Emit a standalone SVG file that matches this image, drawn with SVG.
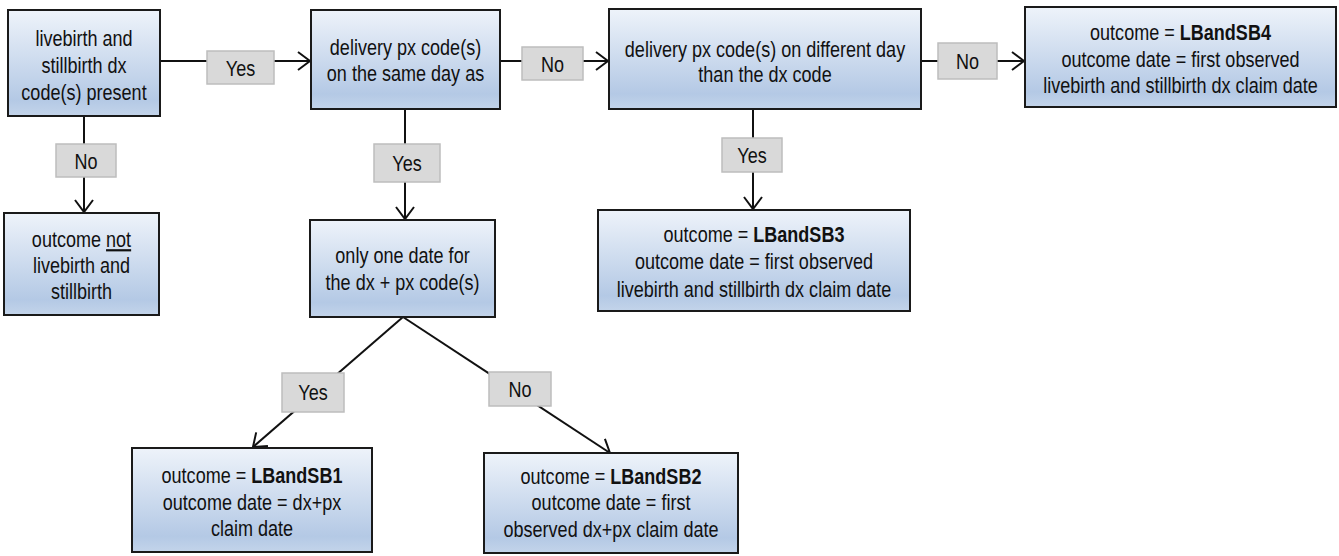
<svg xmlns="http://www.w3.org/2000/svg" width="1339" height="556" viewBox="0 0 1339 556">
<defs>
<linearGradient id="g" x1="0" y1="0" x2="0" y2="1">
<stop offset="0" stop-color="#eef3fa"/>
<stop offset="0.85" stop-color="#b4c9e5"/>
<stop offset="1" stop-color="#c3d4ea"/>
</linearGradient>
<marker id="a" markerUnits="userSpaceOnUse" markerWidth="16" markerHeight="20" refX="13" refY="10" orient="auto">
<path d="M1,1 L13,10 L1,19" fill="none" stroke="#111" stroke-width="2"/>
</marker>
</defs>
<style>
.n{fill:url(#g);stroke:#1a1a1a;stroke-width:2}
.l{fill:#d9d9d9;stroke:#bdbdbd;stroke-width:1.5}
.c{fill:none;stroke:#111;stroke-width:2;marker-end:url(#a)}
text{font-family:"Liberation Sans",Arial,sans-serif;font-size:22px;fill:#111;text-anchor:middle}
.b{font-weight:bold}
</style>
<rect width="1339" height="556" fill="#fff"/>
<g id="connectors">
<line class="c" x1="160" y1="61" x2="310" y2="61"/>
<line class="c" x1="500" y1="61" x2="608" y2="61"/>
<line class="c" x1="921" y1="61" x2="1024" y2="61"/>
<line class="c" x1="84" y1="116" x2="84" y2="212"/>
<line class="c" x1="405" y1="109" x2="405" y2="219"/>
<line class="c" x1="753" y1="109" x2="753" y2="209"/>
<line class="c" x1="403" y1="317" x2="253" y2="447"/>
<line class="c" x1="403" y1="317" x2="610" y2="453"/>
</g>
<g id="labels">
<g id="lbl-yes1"><rect class="l" x="207" y="51" width="67" height="33"/><text transform="translate(240.5 76) scale(0.82 1)">Yes</text></g>
<g id="lbl-no1"><rect class="l" x="522" y="47" width="61" height="33"/><text transform="translate(552.5 72) scale(0.82 1)">No</text></g>
<g id="lbl-no2"><rect class="l" x="938" y="43" width="59" height="36"/><text transform="translate(967.5 69) scale(0.82 1)">No</text></g>
<g id="lbl-no3"><rect class="l" x="56" y="144" width="60" height="33"/><text transform="translate(86 169) scale(0.82 1)">No</text></g>
<g id="lbl-yes2"><rect class="l" x="374" y="144" width="66" height="38"/><text transform="translate(407 171) scale(0.82 1)">Yes</text></g>
<g id="lbl-yes3"><rect class="l" x="722" y="138" width="60" height="34"/><text transform="translate(752 163) scale(0.82 1)">Yes</text></g>
<g id="lbl-yes4"><rect class="l" x="282" y="373" width="62" height="39"/><text transform="translate(313 400) scale(0.82 1)">Yes</text></g>
<g id="lbl-no4"><rect class="l" x="489" y="372" width="62" height="34"/><text transform="translate(520 397) scale(0.82 1)">No</text></g>
</g>
<g id="n1"><rect class="n" x="8" y="10" width="152" height="106"/>
<g transform="translate(84 0) scale(0.82 1)"><text y="46">livebirth and</text><text y="73">stillbirth dx</text><text y="100">code(s) present</text></g></g>
<g id="n2"><rect class="n" x="311" y="10" width="189" height="99"/>
<g transform="translate(405.5 0) scale(0.82 1)"><text y="55">delivery px code(s)</text><text y="81">on the same day as</text></g></g>
<g id="n3"><rect class="n" x="609" y="9" width="312" height="100"/>
<g transform="translate(765 0) scale(0.82 1)"><text y="57">delivery px code(s) on different day</text><text y="82">than the dx code</text></g></g>
<g id="n4"><rect class="n" x="1025" y="7" width="311" height="100"/>
<g transform="translate(1180.5 0) scale(0.82 1)"><text y="40">outcome = <tspan class="b">LBandSB4</tspan></text><text y="67">outcome date = first observed</text><text y="93">livebirth and stillbirth dx claim date</text></g></g>
<g id="n5"><rect class="n" x="4" y="213" width="155" height="102"/>
<g transform="translate(81.5 0) scale(0.82 1)"><text y="247">outcome <tspan text-decoration="underline">not</tspan></text><text y="273">livebirth and</text><text y="299">stillbirth</text></g></g>
<g id="n6"><rect class="n" x="310" y="220" width="185" height="97"/>
<g transform="translate(402.5 0) scale(0.82 1)"><text y="263">only one date for</text><text y="290">the dx + px code(s)</text></g></g>
<g id="n7"><rect class="n" x="598" y="210" width="312" height="101"/>
<g transform="translate(754 0) scale(0.82 1)"><text y="242">outcome = <tspan class="b">LBandSB3</tspan></text><text y="269">outcome date = first observed</text><text y="297">livebirth and stillbirth dx claim date</text></g></g>
<g id="n8"><rect class="n" x="132" y="448" width="240" height="104"/>
<g transform="translate(252 0) scale(0.82 1)"><text y="483">outcome = <tspan class="b">LBandSB1</tspan></text><text y="510">outcome date = dx+px</text><text y="536">claim date</text></g></g>
<g id="n9"><rect class="n" x="484" y="453" width="254" height="100"/>
<g transform="translate(611 0) scale(0.82 1)"><text y="484">outcome = <tspan class="b">LBandSB2</tspan></text><text y="510">outcome date = first</text><text y="537">observed dx+px claim date</text></g></g>
</svg>
